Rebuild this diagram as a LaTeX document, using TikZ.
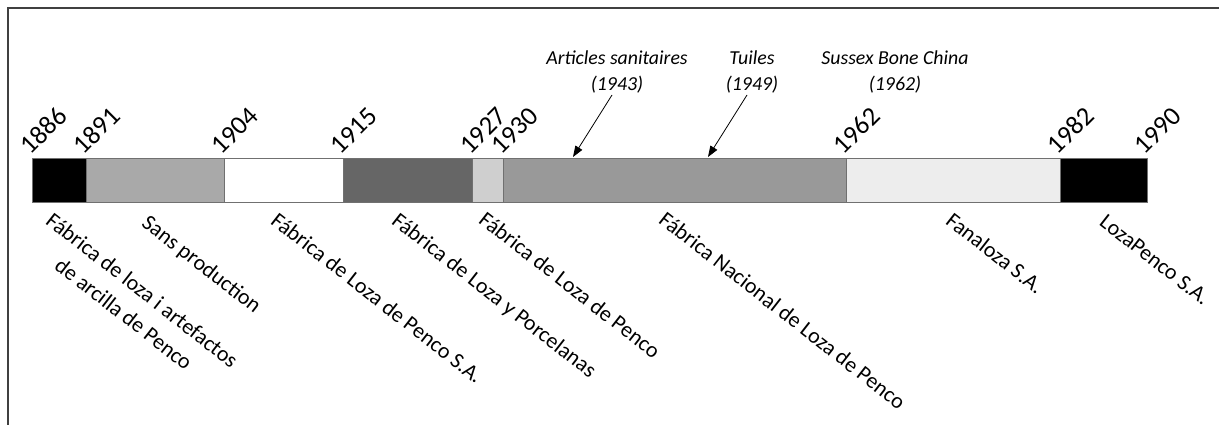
\documentclass[tikz,border=0pt]{standalone}
\usepackage{fontspec}
\setmainfont{Carlito}
\usetikzlibrary{arrows.meta}
\definecolor{cA}{HTML}{A9A9A9}
\definecolor{cB}{HTML}{666666}
\definecolor{cC}{HTML}{CFCFCF}
\definecolor{cD}{HTML}{999999}
\definecolor{cE}{HTML}{EDEDED}
\definecolor{edge}{HTML}{707070}
\definecolor{framec}{HTML}{404040}
\tikzset{
  seg/.style={draw=edge, line width=0.9pt},
  yearlab/.style={rotate=45, anchor=south west, inner sep=0pt, font=\fontsize{26.5}{30}\selectfont},
  namelab/.style={rotate=-38, anchor=north west, inner sep=0pt, align=center, font=\fontsize{22}{30}\selectfont},
  prodlab/.style={align=center, inner sep=0pt, font=\itshape\fontsize{19.8}{26}\selectfont},
  ptr/.style={-{Triangle[length=11pt,width=8pt]}, line width=0.8pt},
  framel/.style={draw=framec, line width=1.1pt}
}
\begin{document}
\begin{tikzpicture}[x=1pt,y=1pt]
\useasboundingbox (0,0) rectangle (1219,-425);
% frame
\draw[framel] (8,-425) -- (8,-8) -- (1219,-8);
% bar segments
\path[seg, fill=black] (32,-158) rectangle (86,-202);
\path[seg, fill=cA] (86,-158) rectangle (224,-202);
\path[seg, fill=white] (224,-158) rectangle (343,-202);
\path[seg, fill=cB] (343,-158) rectangle (472,-202);
\path[seg, fill=cC] (472,-158) rectangle (503,-202);
\path[seg, fill=cD] (503,-158) rectangle (846,-202);
\path[seg, fill=cE] (846,-158) rectangle (1060,-202);
\path[seg, fill=black] (1060,-158) rectangle (1147,-202);
% years
\node[yearlab] (y1886) at (31,-156) {1886};
\node[yearlab] (y1891) at (84,-156) {1891};
\node[yearlab] (y1904) at (222,-156) {1904};
\node[yearlab] (y1915) at (341,-156) {1915};
\node[yearlab] (y1927) at (470,-156) {1927};
\node[yearlab] (y1930) at (502,-156) {1930};
\node[yearlab] (y1962) at (844,-156) {1962};
\node[yearlab] (y1982) at (1058,-156) {1982};
\node[yearlab] (y1990) at (1145,-156) {1990};
% names
\node[namelab] (n1) at (54,-211) {Fábrica de loza i artefactos\\de arcilla de Penco};
\node[namelab] (n2) at (150,-213) {Sans production};
\node[namelab] (n3) at (279,-211) {Fábrica de Loza de Penco S.A.};
\node[namelab] (n4) at (400,-211) {Fábrica de Loza y Porcelanas};
\node[namelab] (n5) at (487,-210) {Fábrica de Loza de Penco};
\node[namelab] (n6) at (667,-210) {Fábrica Nacional de Loza de Penco};
\node[namelab] (n7) at (954,-211) {Fanaloza S.A.};
\node[namelab] (n8) at (1107,-213) {LozaPenco S.A.};
% products
\node[prodlab] (p1) at (617,-72) {Articles sanitaires\\(1943)};
\node[prodlab] (p2) at (752,-72) {Tuiles\\(1949)};
\node[prodlab] (p3) at (895,-72) {Sussex Bone China\\(1962)};
\coordinate (a1s) at (612,-95);
\coordinate (a1e) at (573,-157);
\coordinate (a2s) at (747,-95);
\coordinate (a2e) at (708,-157);
\draw[ptr] (a1s) -- (a1e);
\draw[ptr] (a2s) -- (a2e);
\end{tikzpicture}
\end{document}
